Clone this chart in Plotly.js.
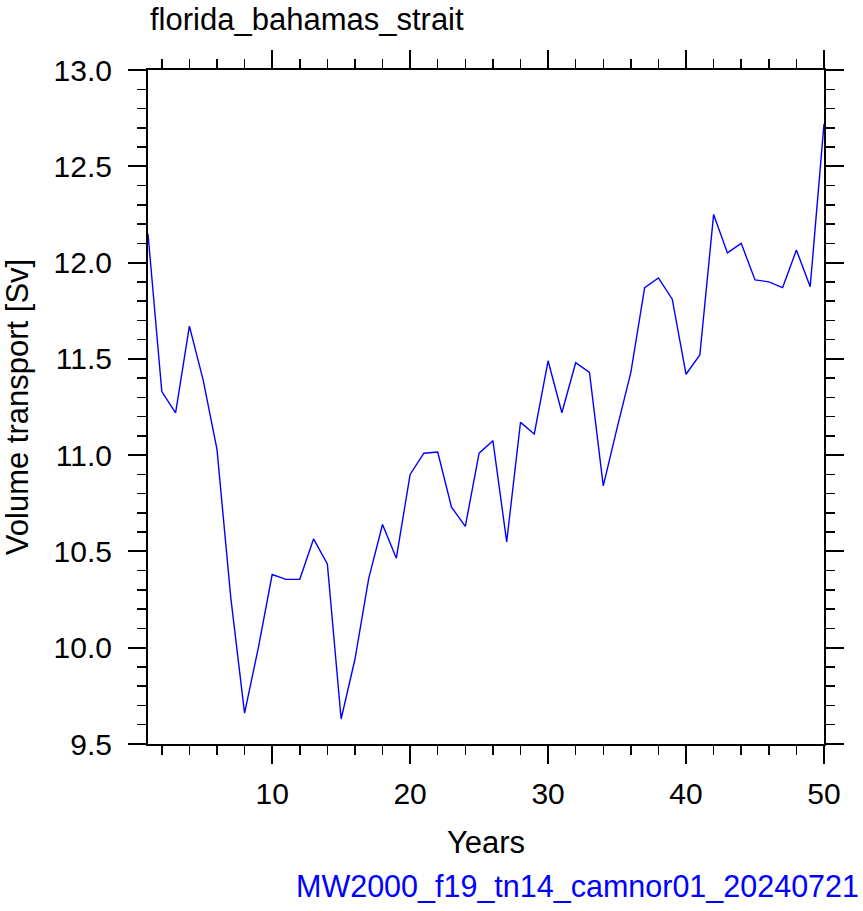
<!DOCTYPE html>
<html>
<head>
<meta charset="utf-8">
<script src="https://cdn.plot.ly/plotly-3.0.1.min.js"></script>
<style>html,body{margin:0;padding:0;background:#fff;}#chart{width:863px;height:911px;}</style>
</head>
<body>
<div id="chart"></div>
<script>
const years = [1,2,3,4,5,6,7,8,9,10,11,12,13,14,15,16,17,18,19,20,21,22,23,24,25,26,27,28,29,30,31,32,33,34,35,36,37,38,39,40,41,42,43,44,45,46,47,48,49,50];
const transport = [12.15,11.33,11.22,11.67,11.39,11.03,10.26,9.66,10.00,10.38,
                   10.355,10.355,10.565,10.435,9.63,9.94,10.36,10.64,10.465,10.90,
                   11.01,11.016,10.73,10.63,11.01,11.075,10.55,11.17,11.11,11.49,
                   11.22,11.48,11.43,10.84,11.14,11.43,11.87,11.92,11.81,11.42,
                   11.52,12.25,12.05,12.10,11.91,11.90,11.87,12.065,11.875,12.72];
const plotTitle = "florida_bahamas_strait";
const xTitle = "Years";
const yTitle = "Volume transport [Sv]";
const caseName = "MW2000_f19_tn14_camnor01_20240721";

const FONT = "Liberation Sans, Arimo, Helvetica, Arial, sans-serif";

const axisCommon = {
  showline: true, linecolor: "#000", linewidth: 2, mirror: "allticks",
  ticks: "outside", ticklen: 18, tickwidth: 2, tickcolor: "#000",
  showgrid: false, zeroline: false,
  tickfont: {family: FONT, size: 30, color: "#000"}
};

const layout = {
  width: 863, height: 911,
  paper_bgcolor: "#fff", plot_bgcolor: "#fff",
  margin: {l: 148, r: 39, t: 70, b: 167, pad: 0},
  showlegend: false,
  font: {family: FONT, color: "#000"},
  xaxis: Object.assign({}, axisCommon, {
    range: [1, 50], tick0: 0, dtick: 10,
    minor: {tick0: 0, dtick: 2, ticks: "outside", ticklen: 9, tickwidth: 1.5, tickcolor: "#000", showgrid: false},
    ticklabelstandoff: 4,
    title: {text: xTitle, font: {family: FONT, size: 31, color: "#000"}, standoff: 22}
  }),
  yaxis: Object.assign({}, axisCommon, {
    range: [9.5, 13], tick0: 9.5, dtick: 0.5, tickformat: ".1f",
    minor: {tick0: 9.5, dtick: 0.1, ticks: "outside", ticklen: 9, tickwidth: 1.5, tickcolor: "#000", showgrid: false},
    ticklabelstandoff: 10,
    title: {text: yTitle, font: {family: FONT, size: 31, color: "#000"}, standoff: 20}
  }),
  annotations: [
    {text: plotTitle, xref: "paper", yref: "paper", x: 0, y: 1, xanchor: "left", yanchor: "bottom",
     yshift: 31, showarrow: false, font: {family: FONT, size: 31, color: "#000"}},
    {text: caseName, xref: "paper", yref: "paper", x: 1, y: 0, xanchor: "right", yanchor: "top",
     xshift: 37, yshift: -123, showarrow: false, font: {family: FONT, size: 30.5, color: "#0000ff"}}
  ]
};

const data = [{
  x: years, y: transport, type: "scatter", mode: "lines",
  line: {color: "#0000ff", width: 1.4}, hoverinfo: "x+y"
}];

Plotly.newPlot("chart", data, layout, {displayModeBar: false, staticPlot: true});
</script>
</body>
</html>
